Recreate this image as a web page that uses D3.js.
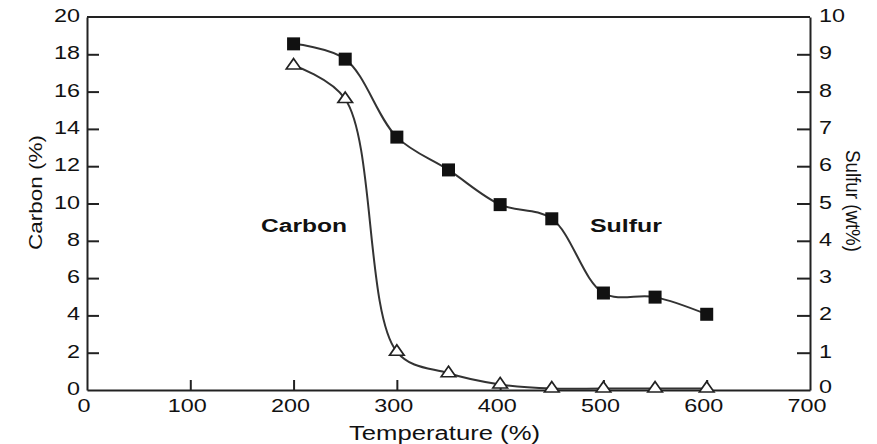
<!DOCTYPE html>
<html>
<head>
<meta charset="utf-8">
<script src="https://cdn.jsdelivr.net/npm/d3@7"></script>
<style>
  html, body { margin: 0; padding: 0; background: #fff; }
  svg { display: block; }
  text { font-family: "Liberation Sans", Arial, Helvetica, sans-serif; fill: #111; }
</style>
</head>
<body>
<svg id="chart" width="877" height="444"></svg>
<script>
// ---- data ----
const temperatures = [200, 250, 300, 350, 400, 450, 500, 550, 600];
const carbonValues = [17.4, 15.6, 2.05, 0.9, 0.3, 0.08, 0.08, 0.08, 0.08];   // left axis (%)
const sulfurValues = [9.28, 8.87, 6.78, 5.9, 4.97, 4.59, 2.6, 2.49, 2.03];   // right axis (wt%)
const xTicks = [0, 100, 200, 300, 400, 500, 600, 700];
const yLeftTicks = [0, 2, 4, 6, 8, 10, 12, 14, 16, 18, 20];
const yRightTicks = [0, 1, 2, 3, 4, 5, 6, 7, 8, 9, 10];
const xTitle = "Temperature (%)";
const yLeftTitle = "Carbon (%)";
const yRightTitle = "Sulfur (wt%)";
const seriesLabels = ["Carbon", "Sulfur"];

// ---- layout ----
const svg = d3.select("#chart");
const L = 87, R = 810, T = 17, B = 390;
const stretch = 1.3;

const x = d3.scaleLinear().domain([0, 700]).range([L, R]);
const yL = d3.scaleLinear().domain([0, 20]).range([B, T]);
const yR = d3.scaleLinear().domain([0, 10]).range([B, T]);

const axisColor = "#222";

// axes (ticks only, pointing inward)
const gx = svg.append("g").attr("transform", `translate(0,${B})`)
  .call(d3.axisBottom(x).tickValues(xTicks.filter(v => v > 0 && v < 700)).tickSizeInner(-10).tickSizeOuter(0).tickFormat(""));
const gl = svg.append("g").attr("transform", `translate(${L},0)`)
  .call(d3.axisLeft(yL).tickValues(yLeftTicks.filter(v => v > 0 && v < 20)).tickSizeInner(-12).tickSizeOuter(0).tickFormat(""));
const gr = svg.append("g").attr("transform", `translate(${R},0)`)
  .call(d3.axisRight(yR).tickValues(yRightTicks.filter(v => v > 0 && v < 10)).tickSizeInner(-13).tickSizeOuter(0).tickFormat(""));
[gx, gl, gr].forEach(g => {
  g.selectAll("path.domain").attr("stroke", axisColor).attr("stroke-width", 2);
  g.selectAll(".tick line").attr("stroke", axisColor).attr("stroke-width", 2);
});
// top border
svg.append("line").attr("x1", L).attr("x2", R).attr("y1", T).attr("y2", T)
  .attr("stroke", axisColor).attr("stroke-width", 2);

// tick labels (horizontally stretched like the scan)
function stretchedText(g, px, py, str, anchor, size, weight) {
  return g.append("text")
    .attr("transform", `translate(${px},${py}) scale(${stretch},1)`)
    .attr("text-anchor", anchor)
    .style("font-size", size + "px")
    .style("font-weight", weight || "normal")
    .text(str);
}
const labels = svg.append("g");
xTicks.forEach(v => stretchedText(labels, x(v) - 3, 412, String(v), "middle", 18));
yLeftTicks.forEach(v => stretchedText(labels, 80, yL(v) + 5, String(v), "end", 18));
yRightTicks.forEach(v => stretchedText(labels, 819, yR(v) + (v === 0 ? 3 : 5), String(v), "start", 18));

// axis titles
svg.append("text").attr("x", (349 + 540) / 2).attr("y", 440)
  .attr("text-anchor", "middle").style("font-size", "20px")
  .attr("textLength", 191).attr("lengthAdjust", "spacingAndGlyphs")
  .text(xTitle);
svg.append("text").attr("transform", `translate(42,${(135 + 250) / 2}) rotate(-90)`)
  .attr("text-anchor", "middle").style("font-size", "18px")
  .attr("textLength", 115).attr("lengthAdjust", "spacingAndGlyphs")
  .text(yLeftTitle);
svg.append("text").attr("transform", `translate(846,${(150 + 252) / 2}) rotate(90)`)
  .attr("text-anchor", "middle").style("font-size", "20px")
  .attr("textLength", 102).attr("lengthAdjust", "spacingAndGlyphs")
  .text(yRightTitle);

// series labels
svg.append("text").attr("x", 304).attr("y", 232).attr("text-anchor", "middle")
  .style("font-size", "18px").style("font-weight", "bold")
  .attr("textLength", 86).attr("lengthAdjust", "spacingAndGlyphs").text(seriesLabels[0]);
svg.append("text").attr("x", 626).attr("y", 232).attr("text-anchor", "middle")
  .style("font-size", "18px").style("font-weight", "bold")
  .attr("textLength", 72).attr("lengthAdjust", "spacingAndGlyphs").text(seriesLabels[1]);

// lines
const carbonData = temperatures.map((t, i) => ({ t, v: carbonValues[i] }));
const sulfurData = temperatures.map((t, i) => ({ t, v: sulfurValues[i] }));
const lineC = d3.line().x(d => x(d.t)).y(d => yL(d.v)).curve(d3.curveCatmullRom.alpha(0.5));
const lineS = d3.line().x(d => x(d.t)).y(d => yR(d.v)).curve(d3.curveCatmullRom.alpha(0.5));
svg.append("path").datum(carbonData).attr("d", lineC)
  .attr("fill", "none").attr("stroke", "#333").attr("stroke-width", 2);
svg.append("path").datum(sulfurData).attr("d", lineS)
  .attr("fill", "none").attr("stroke", "#333").attr("stroke-width", 2);

// markers
const sq = 13;
svg.append("g").selectAll("rect").data(sulfurData).join("rect")
  .attr("x", d => x(d.t) - sq / 2).attr("y", d => yR(d.v) - sq / 2)
  .attr("width", sq).attr("height", sq).attr("fill", "#111");
const tri = d3.symbol().type(d3.symbolTriangle).size(70);
svg.append("g").selectAll("path").data(carbonData).join("path")
  .attr("d", tri)
  .attr("transform", d => `translate(${x(d.t)},${yL(d.v)}) scale(1.15,0.95)`)
  .attr("fill", "#fff").attr("stroke", "#222").attr("stroke-width", 1.6);
</script>
</body>
</html>
